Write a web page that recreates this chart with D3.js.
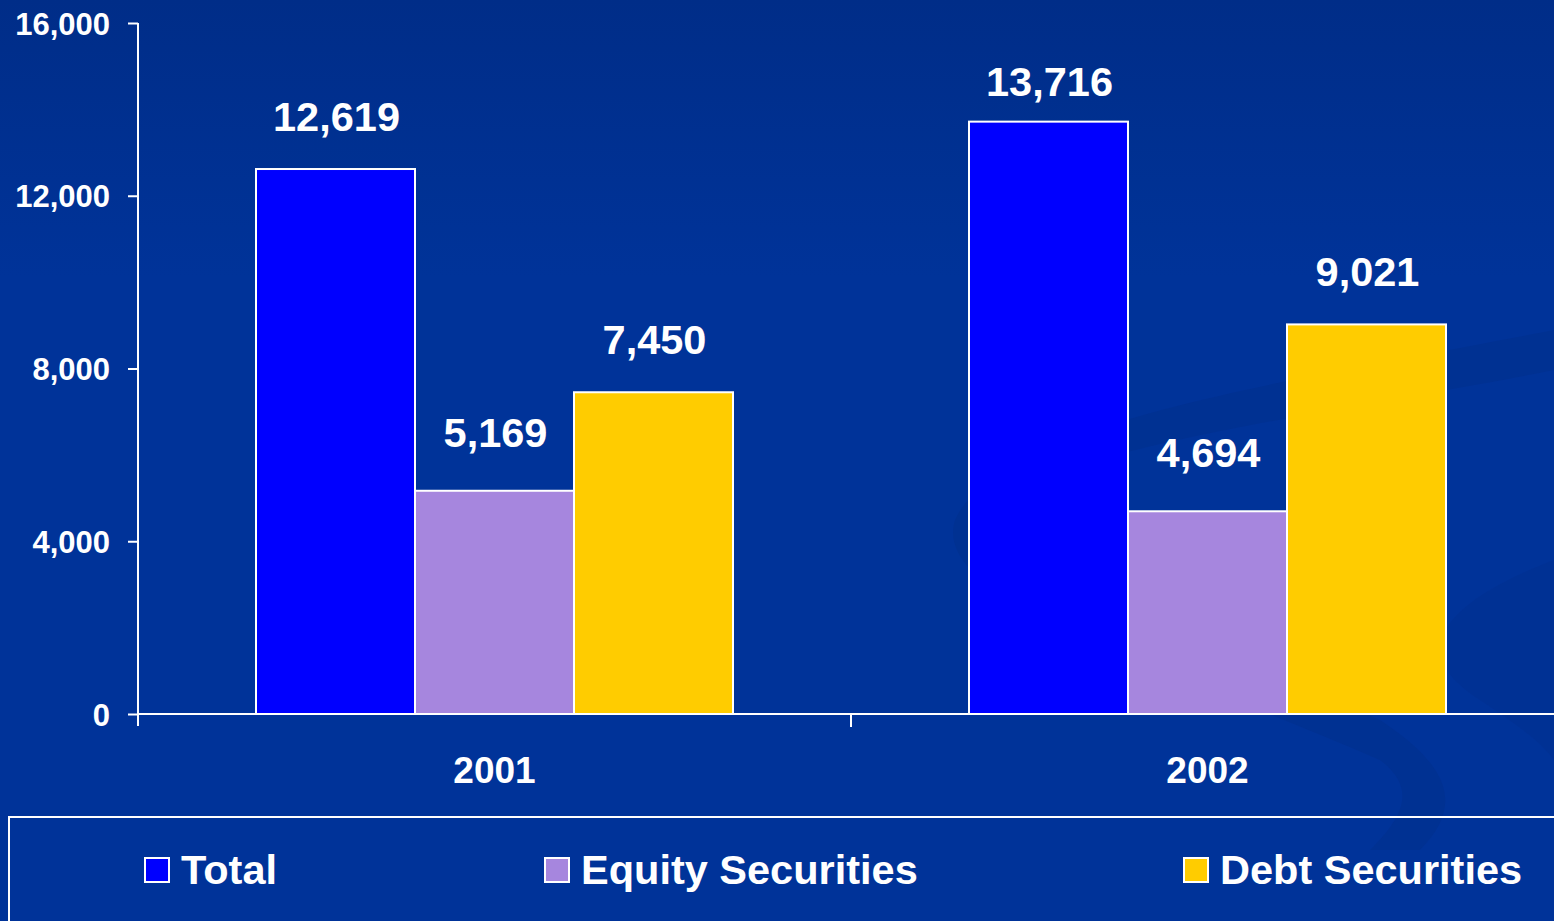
<!DOCTYPE html>
<html>
<head>
<meta charset="utf-8">
<script src="https://cdn.jsdelivr.net/npm/d3@7"></script>
<style>
  html, body { margin: 0; padding: 0; background: #003399; overflow: hidden; }
  svg { display: block; }
  text { font-family: "Liberation Sans", Arial, sans-serif; font-weight: bold; fill: #ffffff; }
</style>
</head>
<body>
<svg id="chart" width="1554" height="921"></svg>
<script>
const categories = ["2001", "2002"];
const seriesNames = ["Total", "Equity Securities", "Debt Securities"];
const seriesColors = ["#0000FF", "#A686DE", "#FFCC00"];
const totalValues = [12619, 13716];
const equityValues = [5169, 4694];
const debtValues = [7450, 9021];
const yTicks = [0, 4000, 8000, 12000, 16000];

const seriesValues = [totalValues, equityValues, debtValues];
const labelGap = [38, 44, 38];
const rows = categories.map((c, i) => ({
  cat: c,
  vals: seriesNames.map((s, j) => ({ key: s, value: seriesValues[j][i], color: seriesColors[j], gap: labelGap[j] }))
}));

const W = 1554, H = 921;
const svg = d3.select("#chart");

// background
const defs = svg.append("defs");
const bg = defs.append("linearGradient").attr("id", "bg").attr("x1", 0).attr("y1", 0).attr("x2", 0).attr("y2", 1);
bg.append("stop").attr("offset", "0%").attr("stop-color", "#002d88");
bg.append("stop").attr("offset", "30%").attr("stop-color", "#003399");
bg.append("stop").attr("offset", "100%").attr("stop-color", "#003399");
svg.append("rect").attr("width", W).attr("height", H).attr("fill", "url(#bg)");

// subtle swoosh decoration
svg.append("path")
  .attr("d", "M1554,330 C1300,380 1000,420 955,520 C930,600 1150,660 1380,760 C1420,790 1400,820 1370,850 L1420,850 C1470,800 1440,760 1380,720 C1150,620 990,580 1000,520 C1020,450 1300,420 1554,370 Z")
  .attr("fill", "#00308f").attr("opacity", 0.7);
svg.append("path")
  .attr("d", "M1554,560 C1450,600 1400,650 1480,700 C1510,720 1540,740 1554,760 Z")
  .attr("fill", "#00308f").attr("opacity", 0.5);

const x0 = d3.scaleBand().domain(categories).range([138, 1564]).paddingInner(0).paddingOuter(0);
const bw = x0.bandwidth();
const x1 = d3.scaleBand().domain(seriesNames).range([bw * 0.1655, bw * 0.8345]).paddingInner(0).paddingOuter(0);
const y = d3.scaleLinear().domain([0, 16000]).range([714, 23]);

const fmt = d3.format(",");

// y axis
const yAxis = svg.append("g").attr("transform", "translate(138,0)")
  .call(d3.axisLeft(y).tickValues(yTicks).tickSize(10).tickPadding(18).tickFormat(fmt));
yAxis.selectAll("path, line").attr("stroke", "#ffffff").attr("stroke-width", 2);
yAxis.select(".domain").attr("d", "M0,23V726");
yAxis.selectAll("text").attr("fill", "#ffffff").style("font-size", "31px")
  .style("font-family", "'Liberation Sans', Arial, sans-serif").style("font-weight", "bold").attr("dy", "0.36em");

// bars
const groups = svg.append("g").selectAll("g").data(rows).join("g")
  .attr("transform", d => `translate(${x0(d.cat)},0)`);
groups.selectAll("rect").data(d => d.vals).join("rect")
  .attr("x", d => x1(d.key))
  .attr("y", d => y(d.value))
  .attr("width", x1.bandwidth())
  .attr("height", d => y(0) - y(d.value))
  .attr("fill", d => d.color)
  .attr("stroke", "#ffffff").attr("stroke-width", 2);
groups.selectAll("text.val").data(d => d.vals).join("text")
  .attr("class", "val")
  .attr("x", d => x1(d.key) + x1.bandwidth() / 2 + 1)
  .attr("y", d => Math.max(y(d.value) - d.gap, 96))
  .attr("text-anchor", "middle")
  .style("font-size", "41.5px")
  .text(d => fmt(d.value));

// x axis
const xAxis = svg.append("g").attr("transform", "translate(0,714)")
  .call(d3.axisBottom(x0).tickSize(0).tickPadding(0).tickFormat(""));
xAxis.select(".domain").attr("stroke", "#ffffff").attr("stroke-width", 2).attr("d", "M138,0H1554");
// category boundary ticks
svg.append("g").selectAll("line").data(categories.slice(1)).join("line")
  .attr("x1", d => x0(d)).attr("x2", d => x0(d))
  .attr("y1", 714).attr("y2", 727)
  .attr("stroke", "#ffffff").attr("stroke-width", 2);
svg.append("g").selectAll("text").data(categories).join("text")
  .attr("x", d => x0(d) + x0.bandwidth() / 2)
  .attr("y", 783)
  .attr("text-anchor", "middle")
  .style("font-size", "37px")
  .text(d => d);

// legend
svg.append("rect").attr("x", 9).attr("y", 817).attr("width", 1600).attr("height", 200)
  .attr("fill", "none").attr("stroke", "#ffffff").attr("stroke-width", 2);
const legendX = [145, 545, 1184];
const leg = svg.append("g").selectAll("g").data(seriesNames).join("g")
  .attr("transform", (d, i) => `translate(${legendX[i]},858)`);
leg.append("rect").attr("width", 24).attr("height", 24)
  .attr("fill", (d, i) => seriesColors[i]).attr("stroke", "#ffffff").attr("stroke-width", 2);
leg.append("text").attr("x", 36).attr("y", 26).style("font-size", "41.5px").text(d => d);
</script>
</body>
</html>
